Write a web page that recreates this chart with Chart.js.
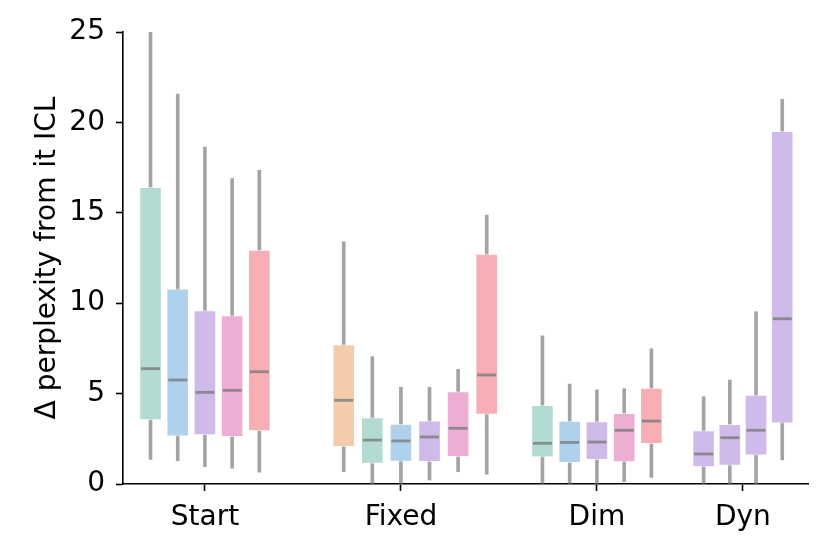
<!DOCTYPE html>
<html>
<head>
<meta charset="utf-8">
<script src="https://cdn.jsdelivr.net/npm/chart.js@4"></script>
<style>
  html, body { margin: 0; padding: 0; background: #fff; }
  #wrap { width: 831px; height: 555px; }
</style>
</head>
<body>
<div id="wrap"><canvas id="canvas" width="831" height="555"></canvas></div>
<script>
// groups on the x axis
var groups = ["Start", "Fixed", "Dim", "Dyn"];
var groupPos = [0, 1, 2, 2.745];

// one entry per box, in drawing order
var boxGroup = [0, 0, 0, 0, 0, 1, 1, 1, 1, 1, 1, 2, 2, 2, 2, 2, 3, 3, 3, 3];
var boxHue = ["teal", "blue", "purple", "pink", "red",
              "orange", "teal", "blue", "purple", "pink", "red",
              "teal", "blue", "purple", "pink", "red",
              "purple", "purple", "purple", "purple"];
var whiskerLow  = [1.36, 1.29, 0.96, 0.87, 0.66,  0.68, 0.0, 0.0, 0.22, 0.68, 0.55,  0.0, 0.0, 0.0, 0.13, 0.37,  0.0, 0.0, 0.0, 1.33];
var q1          = [3.54, 2.65, 2.71, 2.62, 2.93,  2.06, 1.14, 1.25, 1.23, 1.51, 3.85,  1.48, 1.18, 1.35, 1.22, 2.23,  0.94, 1.03, 1.59, 3.36];
var median      = [6.38, 5.75, 5.07, 5.18, 6.21,  4.63, 2.43, 2.38, 2.60, 3.08, 6.03,  2.25, 2.30, 2.32, 2.97, 3.48,  1.66, 2.56, 2.97, 9.14];
var q3          = [16.41, 10.79, 9.59, 9.31, 12.94,  7.71, 3.67, 3.32, 3.50, 5.11, 12.72,  4.35, 3.48, 3.45, 3.91, 5.31,  2.95, 3.30, 4.92, 19.50];
var whiskerHigh = [25.0, 21.57, 18.64, 16.89, 17.35,  13.40, 7.04, 5.35, 5.35, 6.34, 14.88,  8.19, 5.53, 5.20, 5.27, 7.48,  4.83, 5.75, 9.53, 21.28];

// y axis ticks
var yTicks = [0, 5, 10, 15, 20, 25];

// styles / layout
var hueColor = {
    orange: "#f4cbab",
    teal:   "#b4dbd3",
    blue:   "#b0d1ec",
    purple: "#cfbae9",
    pink:   "#ecaed3",
    red:    "#f7afb5"
};
var slotStep = [0.1388, 0.1459, 0.139, 0.1337];   // spacing between boxes per group
var groupAnchor = [2, 2, 2, 1.5];                   // which slot sits on the tick
var lineGray = "rgba(128,128,128,0.72)";
var medianGray = "rgba(120,120,120,0.78)";
var font = "'DejaVu Sans', sans-serif";

// x position of each box from its group and its place in the group
var boxX = [];
var seen = [0, 0, 0, 0];
for (var i = 0; i < boxGroup.length; i++) {
    var g = boxGroup[i];
    boxX.push(groupPos[g] + (seen[g] - groupAnchor[g]) * slotStep[g]);
    seen[g]++;
}

var whiskerData = boxX.map(function (x, i) { return { x: x, y: [whiskerLow[i], whiskerHigh[i]] }; });
var boxData = boxX.map(function (x, i) { return { x: x, y: [q1[i], q3[i]] }; });
var medianData = boxX.map(function (x, i) { return { x: x, y: median[i] }; });

var axisGrid = {
    display: true,
    drawOnChartArea: false,
    drawTicks: true,
    offset: false,
    tickLength: 7,
    tickColor: "#000",
    tickWidth: 1.6
};

var ctx = document.getElementById("canvas");
var chart = new Chart(ctx, {
    type: "bar",
    data: {
        datasets: [
            {
                label: "whiskers",
                data: whiskerData,
                backgroundColor: lineGray,
                barThickness: 3,
                grouped: false,
                order: 3
            },
            {
                label: "boxes",
                data: boxData,
                backgroundColor: boxHue.map(function (h) { return hueColor[h]; }),
                borderColor: "rgba(255,255,255,0.6)",
                borderWidth: 1,
                borderSkipped: false,
                barThickness: 22,
                grouped: false,
                order: 2
            },
            {
                type: "line",
                label: "median",
                data: medianData,
                showLine: false,
                pointStyle: "line",
                pointRadius: 9.5,
                pointHoverRadius: 9.5,
                pointBorderWidth: 2.8,
                pointBorderColor: medianGray,
                borderColor: medianGray,
                order: 1
            }
        ]
    },
    options: {
        responsive: false,
        animation: false,
        layout: { padding: { top: 32, right: 23, left: 0, bottom: 0 } },
        plugins: {
            legend: { display: false },
            tooltip: { enabled: false }
        },
        scales: {
            x: {
                type: "linear",
                min: -0.418,
                max: 3.077,
                offset: false,
                afterFit: function (s) { s.height = 71; },
                afterBuildTicks: function (s) {
                    s.ticks = groupPos.map(function (v) { return { value: v }; });
                },
                ticks: {
                    autoSkip: false,
                    maxRotation: 0,
                    color: "#000",
                    padding: 10,
                    font: { family: font, size: 28 },
                    callback: function (v, idx) { return groups[idx]; }
                },
                grid: axisGrid,
                border: { display: true, color: "#000", width: 1.6 }
            },
            y: {
                min: 0,
                max: 25,
                afterFit: function (s) { s.width = 123; },
                afterBuildTicks: function (s) {
                    s.ticks = yTicks.map(function (v) { return { value: v }; });
                },
                ticks: {
                    color: "#000",
                    padding: 11,
                    font: { family: font, size: 28 }
                },
                grid: axisGrid,
                border: { display: true, color: "#000", width: 1.6 },
                title: {
                    display: true,
                    text: "Δ perplexity from it ICL",
                    color: "#000",
                    font: { family: font, size: 28 },
                    padding: { top: 31, bottom: 0 }
                }
            }
        }
    }
});
</script>
</body>
</html>
